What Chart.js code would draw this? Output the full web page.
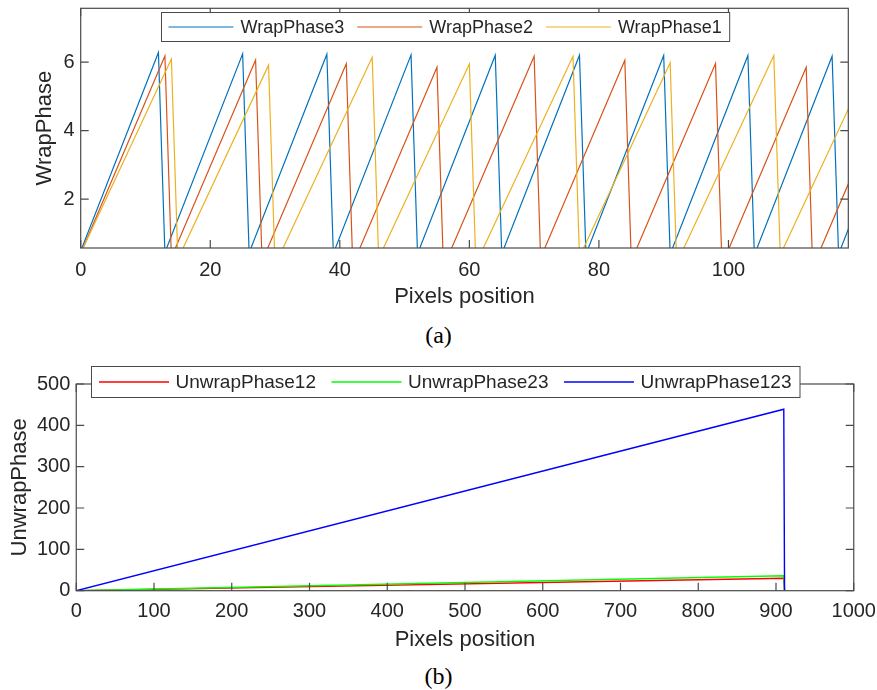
<!DOCTYPE html>
<html>
<head>
<meta charset="utf-8">
<script src="https://cdn.jsdelivr.net/npm/chart.js@4/dist/chart.umd.min.js"></script>
<style>
  body { margin: 0; background: #fff; width: 877px; height: 690px; position: relative; overflow: hidden;
         font-family: "Liberation Sans", Arial, sans-serif; color: #262626; }
  canvas { position: absolute; left: 0; }
  .caption { position: absolute; left: 0; width: 877px; text-align: center; line-height: 28px;
             font-family: "Liberation Serif", "Times New Roman", serif; font-size: 24px; color: #000; }
</style>
</head>
<body>
<canvas id="chartA" width="877" height="320" style="top:0px"></canvas>
<div class="caption" style="top:321px">(a)</div>

<canvas id="chartB" width="877" height="310" style="top:350px"></canvas>
<div class="caption" style="top:662px">(b)</div>

<script>
// (a) wrapped phases - sawtooth vertices (pixel position, phase)
const wrapLabels = ['WrapPhase3', 'WrapPhase2', 'WrapPhase1'];
const wrapColors = ['#0072BD', '#D95319', '#EDB120'];
const wrap3X = [0, 12, 13, 25, 26, 38, 39, 51, 52, 64, 65, 77, 78, 90, 91, 103, 104, 116, 117, 119];
const wrap3Y = [0.48, 6.28, 0.44, 6.24, 0.43, 6.23, 0.41, 6.21, 0.40, 6.20, 0.40, 6.20, 0.39, 6.19, 0.39, 6.19, 0.37, 6.17, 0.39, 1.36];
const wrap2X = [0, 13, 14, 27, 28, 41, 42, 55, 56, 70, 71, 84, 85, 98, 99, 112, 113, 119];
const wrap2Y = [0.41, 6.18, 0.29, 6.06, 0.18, 5.95, 0.08, 5.85, 0.01, 6.17, 0.28, 6.05, 0.19, 5.96, 0.08, 5.85, 0.00, 2.66];
const wrap1X = [0, 14, 15, 29, 30, 45, 46, 60, 61, 76, 77, 91, 92, 107, 108, 119];
const wrap1Y = [0.42, 6.09, 0.24, 5.91, 0.07, 6.14, 0.27, 5.94, 0.10, 6.17, 0.31, 5.98, 0.12, 6.19, 0.37, 4.83];
const wrapXRange = [0, 118.5];
const wrapYRange = [0.57, 7.57];
const wrapXTicks = [0, 20, 40, 60, 80, 100];
const wrapYTicks = [2, 4, 6];

// (b) unwrapped phases
const unwrapLabels = ['UnwrapPhase12', 'UnwrapPhase23', 'UnwrapPhase123'];
const unwrapColors = ['#FF0000', '#00FF00', '#0000FF'];
const unwrapX = [0, 910, 911];
const unwrap12Y = [0, 30, 0];
const unwrap23Y = [0, 36, 0];
const unwrap123Y = [0, 439, 0];
const unwrapXRange = [0, 1000];
const unwrapYRange = [0, 500];
const unwrapXTicks = [0, 100, 200, 300, 400, 500, 600, 700, 800, 900, 1000];
const unwrapYTicks = [0, 100, 200, 300, 400, 500];

const axisColor = '#4a4a4a';
const textColor = '#262626';
const fontFamily = '"Liberation Sans", Arial, sans-serif';
const tickLen = 8;

Chart.defaults.font.family = fontFamily;
Chart.defaults.color = textColor;

function points(xs, ys)
{
    return xs.map(function(x, i) { return {x: x, y: ys[i]}; });
}

// full box + inward ticks on all four sides, like a matlab axes
const boxPlugin = {
    id: 'boxAxes',
    afterDraw(chart) {
        const ctx = chart.ctx;
        const a = chart.chartArea;
        const xs = chart.scales.x;
        const ys = chart.scales.y;
        ctx.save();
        ctx.strokeStyle = axisColor;
        ctx.lineWidth = 1.2;
        ctx.beginPath();
        xs.ticks.forEach(function(t) {
            const px = xs.getPixelForValue(t.value);
            ctx.moveTo(px, a.bottom); ctx.lineTo(px, a.bottom - tickLen);
            ctx.moveTo(px, a.top); ctx.lineTo(px, a.top + tickLen);
        });
        ys.ticks.forEach(function(t) {
            const py = ys.getPixelForValue(t.value);
            ctx.moveTo(a.left, py); ctx.lineTo(a.left + tickLen, py);
            ctx.moveTo(a.right, py); ctx.lineTo(a.right - tickLen, py);
        });
        ctx.stroke();
        ctx.strokeRect(a.left, a.top, a.right - a.left, a.bottom - a.top);
        ctx.restore();
    }
};

// horizontal boxed legend drawn over the top of the axes
const boxLegend = {
    id: 'boxLegend',
    afterDraw(chart, args, o) {
        const ctx = chart.ctx;
        const sets = chart.data.datasets;
        ctx.save();
        ctx.font = o.fontSize + 'px ' + fontFamily;
        let w = o.gaps[0] + o.gaps[3];
        sets.forEach(function(ds, i) {
            w += o.lineLen + o.gaps[1] + ctx.measureText(ds.label).width;
            if (i > 0) w += o.gaps[2];
        });
        ctx.fillStyle = '#fff';
        ctx.fillRect(o.left, o.top, w, o.height);
        ctx.strokeStyle = axisColor;
        ctx.lineWidth = 1;
        ctx.strokeRect(o.left, o.top, w, o.height);
        const cy = o.top + o.height / 2;
        let x = o.left + o.gaps[0];
        ctx.textBaseline = 'middle';
        ctx.textAlign = 'left';
        sets.forEach(function(ds, i) {
            if (i > 0) x += o.gaps[2];
            ctx.strokeStyle = ds.borderColor;
            ctx.lineWidth = ds.borderWidth;
            ctx.beginPath();
            ctx.moveTo(x, cy); ctx.lineTo(x + o.lineLen, cy);
            ctx.stroke();
            x += o.lineLen + o.gaps[1];
            ctx.fillStyle = textColor;
            ctx.fillText(ds.label, x, cy + 1);
            x += ctx.measureText(ds.label).width;
        });
        ctx.restore();
    }
};

function makeChart(id, opt)
{
    const datasets = opt.series.map(function(s, i) {
        return {
            label: opt.labels[i],
            data: points(s[0], s[1]),
            borderColor: opt.colors[i],
            borderWidth: opt.lineWidth,
            pointRadius: 0,
            tension: 0,
            fill: false,
            order: opt.series.length - i   // later series on top
        };
    });
    return new Chart(document.getElementById(id), {
        type: 'line',
        data: { datasets: datasets },
        options: {
            responsive: false,
            animation: false,
            events: [],
            layout: { autoPadding: false, padding: opt.pad },
            plugins: { legend: { display: false }, tooltip: { enabled: false }, boxLegend: opt.legend },
            scales: {
                x: {
                    type: 'linear',
                    min: opt.xRange[0], max: opt.xRange[1],
                    grid: { display: false, drawTicks: false }, border: { display: false },
                    afterBuildTicks: function(s) { s.ticks = opt.xTicks.map(function(v) { return {value: v}; }); },
                    afterFit: function(s) { s.height = opt.xHeight; s.paddingLeft = 0; s.paddingRight = 0; },
                    ticks: { font: { size: 20 }, padding: opt.xTickPad, color: textColor, maxRotation: 0,
                             callback: function(v) { return String(v); } },
                    title: { display: true, text: 'Pixels position', font: { size: 22 },
                             padding: { top: 0, bottom: opt.xTitlePad }, color: textColor }
                },
                y: {
                    type: 'linear',
                    min: opt.yRange[0], max: opt.yRange[1],
                    grid: { display: false, drawTicks: false }, border: { display: false },
                    afterBuildTicks: function(s) { s.ticks = opt.yTicks.map(function(v) { return {value: v}; }); },
                    afterFit: function(s) { s.width = opt.yWidth; s.paddingTop = 0; s.paddingBottom = 0; },
                    ticks: { font: { size: 20 }, padding: 6, color: textColor,
                             callback: function(v) { return String(v); } },
                    title: { display: true, text: opt.yTitle, font: { size: 22 },
                             padding: { top: opt.yTitlePad, bottom: 0 }, color: textColor }
                }
            }
        },
        plugins: [boxPlugin, boxLegend]
    });
}

makeChart('chartA', {
    labels: wrapLabels, colors: wrapColors, lineWidth: 1.2,
    series: [[wrap3X, wrap3Y], [wrap2X, wrap2Y], [wrap1X, wrap1Y]],
    xRange: wrapXRange, yRange: wrapYRange, xTicks: wrapXTicks, yTicks: wrapYTicks,
    pad: { left: 0, top: 8.3, right: 28.7, bottom: 0 },
    yWidth: 80.7, xHeight: 72, xTickPad: 10, xTitlePad: 9.8,
    yTitle: 'WrapPhase', yTitlePad: 31.8,
    legend: { left: 161.5, top: 12.5, height: 29, fontSize: 18, lineLen: 65, gaps: [7, 7, 13, 8] }
});

makeChart('chartB', {
    labels: unwrapLabels, colors: unwrapColors, lineWidth: 1.4,
    series: [[unwrapX, unwrap12Y], [unwrapX, unwrap23Y], [unwrapX, unwrap123Y]],
    xRange: unwrapXRange, yRange: unwrapYRange, xTicks: unwrapXTicks, yTicks: unwrapYTicks,
    pad: { left: 0, top: 34, right: 23.25, bottom: 0 },
    yWidth: 76.25, xHeight: 69.3, xTickPad: 9, xTitlePad: 6.8,
    yTitle: 'UnwrapPhase', yTitlePad: 6.8,
    legend: { left: 91.5, top: 16.5, height: 31, fontSize: 19, lineLen: 70, gaps: [7.5, 6.5, 15.5, 8.5] }
});
</script>
</body>
</html>
